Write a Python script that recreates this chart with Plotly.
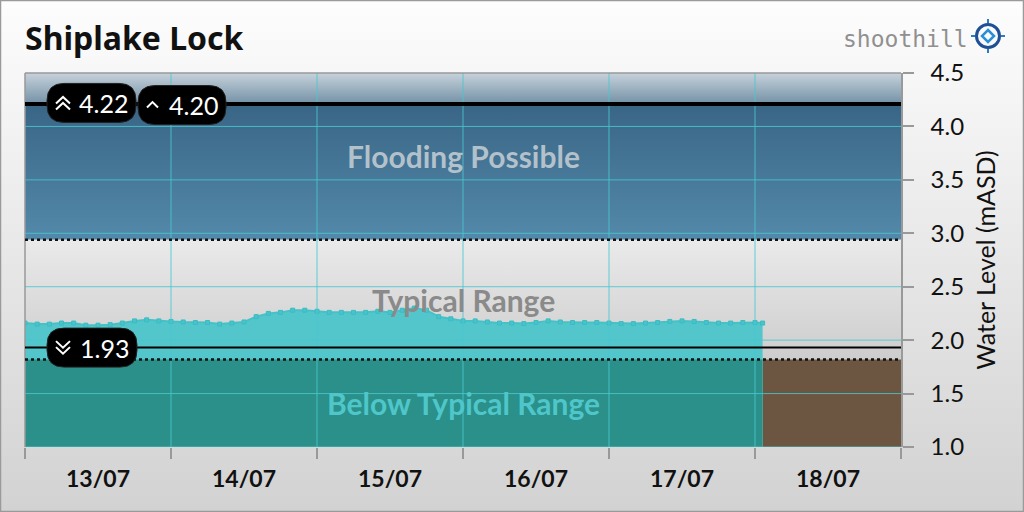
import plotly.graph_objects as go
import pandas as pd

# ---------------- data ----------------
start_time = "2023-07-13 00:00"
end_time = "2023-07-19 00:00"
last_reading_time = "2023-07-18 01:15"
levels = [2.16, 2.15, 2.15, 2.16, 2.16, 2.14, 2.14, 2.145, 2.16, 2.18,
          2.19, 2.18, 2.175, 2.17, 2.165, 2.165, 2.15, 2.16, 2.17, 2.22,
          2.25, 2.26, 2.28, 2.28, 2.27, 2.26, 2.26, 2.26, 2.26, 2.27,
          2.26, 2.28, 2.30, 2.28, 2.22, 2.20, 2.18, 2.18, 2.17, 2.16,
          2.16, 2.155, 2.165, 2.18, 2.17, 2.165, 2.165, 2.165, 2.16, 2.155,
          2.155, 2.16, 2.165, 2.175, 2.18, 2.175, 2.165, 2.16, 2.16, 2.165,
          2.165, 2.16]
times = list(pd.date_range(start_time, periods=len(levels) - 1, freq="2h")) + [pd.Timestamp(last_reading_time)]

axis_min, axis_max = 1.0, 4.5
typical_low, typical_high = 1.82, 2.94
thresholds = [4.22, 4.20, 1.93]
threshold_labels = ["4.22", "4.20", "1.93"]
y_ticks = [1.0, 1.5, 2.0, 2.5, 3.0, 3.5, 4.0, 4.5]
grid_days = ["2023-07-14", "2023-07-15", "2023-07-16", "2023-07-17", "2023-07-18"]
band_labels = ["Flooding Possible", "Typical Range", "Below Typical Range"]
title_text = "Shiplake Lock"
y_title = "Water Level (mASD)"

# ---------------- helpers ----------------
L, R, T, B, W, H = 25, 123, 73, 65, 1024, 512
PW, PH = W - L - R, H - T - B

def xp(px):
    return (px - L) / PW

def yp(py):
    return (H - B - py) / PH

FONT = "Lato"
fig = go.Figure()

# background bands (gradients)
fig.add_trace(go.Scatter(
    x=[start_time, end_time, end_time, start_time, start_time],
    y=[typical_high, typical_high, axis_max, axis_max, typical_high],
    fill="toself", mode="none", hoverinfo="skip",
    fillgradient=dict(type="vertical", start=typical_high, stop=axis_max,
                      colorscale=[[0, "#5389aa"], [0.803, "#3a6686"], [0.806, "#6f8ea4"], [1, "#c7d2db"]])))
fig.add_trace(go.Scatter(
    x=[start_time, end_time, end_time, start_time, start_time],
    y=[typical_low, typical_low, typical_high, typical_high, typical_low],
    fill="toself", mode="none", hoverinfo="skip",
    fillgradient=dict(type="vertical", start=typical_low, stop=typical_high,
                      colorscale=[[0, "#cdcdcd"], [1, "#eaeaea"]])))
# brown region after data
fig.add_trace(go.Scatter(
    x=[times[-1], end_time, end_time, times[-1], times[-1]],
    y=[axis_min, axis_min, typical_low, typical_low, axis_min],
    fill="toself", mode="none", fillcolor="#6c5641", hoverinfo="skip"))

# water level area
fig.add_trace(go.Scatter(
    x=times, y=[axis_min] * len(times), mode="lines", line=dict(width=0),
    hoverinfo="skip"))
fig.add_trace(go.Scatter(
    x=times, y=levels, mode="lines+markers", fill="tonexty",
    fillcolor="#53c6cb", line=dict(color="#45c2c8", width=2),
    marker=dict(symbol="square", size=4, color="#48c3c9",
                line=dict(color="#3bbcc3", width=1))))
# teal below-typical region under the data
fig.add_trace(go.Scatter(
    x=[times[0], times[-1], times[-1], times[0], times[0]],
    y=[axis_min, axis_min, typical_low, typical_low, axis_min],
    fill="toself", mode="none", fillcolor="#2a9089", hoverinfo="skip"))

shapes = []
# background of the whole image (vertical gradient strips)
n = 64
for i in range(n):
    p0, p1 = H * i / n, H * (i + 1) / n
    t = (i + 0.5) / n
    c = int(round(253 - (253 - 210) * t))
    shapes.append(dict(type="rect", xref="paper", yref="paper", layer="below",
                       x0=xp(0), x1=xp(W), y0=yp(p1), y1=yp(p0),
                       fillcolor=f"rgb({c},{c},{c})", line=dict(width=0)))
# grid lines on top of the fills
grid_col = "rgba(70,200,208,0.85)"
for yv in y_ticks[:-1]:
    shapes.append(dict(type="line", xref="x domain", yref="y", x0=0, x1=1, y0=yv, y1=yv,
                       line=dict(color=grid_col, width=1), layer="above"))
for d in grid_days:
    shapes.append(dict(type="line", xref="x", yref="y domain", x0=d, x1=d, y0=0, y1=1,
                       line=dict(color=grid_col, width=1), layer="above"))
# plot border
shapes.append(dict(type="line", xref="x domain", yref="y domain", x0=0, x1=1, y0=1, y1=1,
                   line=dict(color="#999999", width=1.5), layer="above"))
shapes.append(dict(type="line", xref="x domain", yref="y domain", x0=0, x1=0, y0=0, y1=1,
                   line=dict(color="#999999", width=1.5), layer="above"))
# typical range boundaries (dotted)
for yv in [typical_low, typical_high]:
    shapes.append(dict(type="line", xref="x domain", yref="y", x0=0, x1=1, y0=yv, y1=yv,
                       line=dict(color="#111111", width=2.5, dash="dot"), layer="above"))
# thresholds
for yv in thresholds:
    shapes.append(dict(type="line", xref="x domain", yref="y", x0=0, x1=1, y0=yv, y1=yv,
                       line=dict(color="#000000", width=2), layer="above"))

def pill(a, b, h, r):
    return (f"M{a+r},{-h} L{b-r},{-h} Q{b},{-h} {b},{-h+r} L{b},{h-r} Q{b},{h} {b-r},{h} "
            f"L{a+r},{h} Q{a},{h} {a},{h-r} L{a},{-h+r} Q{a},{-h} {a+r},{-h} Z")

badge_geom = [(22, 111), (113, 201), (22, 112)]
text_shift = [52, 142, 53]
for (a, b), lvl in zip(badge_geom, thresholds):
    shapes.append(dict(type="path", xref="x", yref="y", xsizemode="pixel", ysizemode="pixel",
                       xanchor=start_time, yanchor=lvl, path=pill(a, b, 19.5, 17),
                       fillcolor="#000000", line=dict(color="#222222", width=1), layer="above"))

def chev(x0, x1, ybase, up=True, hgt=6.5):
    xm = (x0 + x1) / 2
    tip = ybase + hgt if up else ybase - hgt
    return f"M{x0},{ybase} L{xm},{tip} L{x1},{ybase}"

chevrons = [
    (start_time, thresholds[0], chev(31, 45, -0.5, True)),
    (start_time, thresholds[0], chev(31, 45, -6.5, True)),
    (start_time, thresholds[1], chev(122, 133, -2.5, True, 5.5)),
    (start_time, thresholds[2], chev(31, 45, 6.5, False)),
    (start_time, thresholds[2], chev(31, 45, 0.5, False)),
]
for xa, ya, pth in chevrons:
    shapes.append(dict(type="path", xref="x", yref="y", xsizemode="pixel", ysizemode="pixel",
                       xanchor=xa, yanchor=ya, path=pth,
                       line=dict(color="#ffffff", width=2), layer="above"))

# outer image border
shapes.append(dict(type="rect", xref="paper", yref="paper", x0=xp(0.5), x1=xp(W - 0.5),
                   y0=yp(H - 0.5), y1=yp(0.5), line=dict(color="#9a9a9a", width=1.5),
                   fillcolor="rgba(0,0,0,0)", layer="above"))

# logo icon
cx, cy = 988, 36
def circ(r, color, w, fill="rgba(0,0,0,0)"):
    return dict(type="circle", xref="paper", yref="paper", x0=xp(cx - r), x1=xp(cx + r),
                y0=yp(cy + r), y1=yp(cy - r), line=dict(color=color, width=w), fillcolor=fill,
                layer="above")
shapes.append(circ(11.5, "#1f4f95", 3))
shapes.append(dict(type="path", xref="paper", yref="paper", layer="above",
                   path=(f"M{xp(cx)},{yp(cy-6)} L{xp(cx+6)},{yp(cy)} L{xp(cx)},{yp(cy+6)} "
                         f"L{xp(cx-6)},{yp(cy)} Z"),
                   line=dict(color="#2b8fd6", width=2.5), fillcolor="rgba(0,0,0,0)"))
for dx, dy in [(1, 0), (-1, 0), (0, 1), (0, -1)]:
    shapes.append(dict(type="line", xref="paper", yref="paper", layer="above",
                       x0=xp(cx + dx * 13), x1=xp(cx + dx * 17), y0=yp(cy + dy * 13), y1=yp(cy + dy * 17),
                       line=dict(color="#2a7cc4", width=2)))

annotations = []
annotations.append(dict(text=title_text, xref="paper", yref="paper", x=xp(23), y=yp(37),
                        xanchor="left", yanchor="middle", showarrow=False,
                        font=dict(family="Noto Sans", size=32, weight="bold", color="#111111")))
annotations.append(dict(text="shoothill", xref="paper", yref="paper", x=xp(841), y=yp(39),
                        xanchor="left", yanchor="middle", showarrow=False,
                        font=dict(family="DejaVu Sans Mono", size=23, weight=200, color="#909090")))
band_mid = [(typical_high + axis_max) / 2, (typical_low + typical_high) / 2, (axis_min + typical_low) / 2]
band_cols = ["rgba(200,208,214,0.85)", "#8a8a8a", "#4fc6ca"]
for txt, ym, col in zip(band_labels, band_mid, band_cols):
    annotations.append(dict(text=txt, xref="x domain", yref="y", x=0.5, y=ym, showarrow=False,
                            xanchor="center", yanchor="middle",
                            font=dict(family=FONT, size=30, weight="bold", color=col)))
for lbl, lvl, sh in zip(threshold_labels, thresholds, text_shift):
    annotations.append(dict(text=lbl, xref="x", yref="y", x=start_time, y=lvl, xshift=sh,
                            xanchor="left", yanchor="middle", showarrow=False,
                            font=dict(family=FONT, size=25, color="#ffffff")))

fig.update_layout(
    width=W, height=H, margin=dict(l=L, r=R, t=T, b=B),
    paper_bgcolor="#eeeeee", plot_bgcolor="rgba(0,0,0,0)", showlegend=False,
    shapes=shapes, annotations=annotations,
    xaxis=dict(type="date", range=[start_time, end_time], tick0=start_time, dtick=86400000,
               tickformat="%d/%m", ticklabelmode="period", ticks="outside", ticklen=11,
               tickcolor="#999999", tickwidth=1.5, showgrid=False, zeroline=False, showline=False,
               tickfont=dict(family=FONT, size=23, weight="bold", color="#111111"),
               fixedrange=True),
    yaxis=dict(side="right", range=[axis_min, axis_max], tickvals=y_ticks,
               ticktext=[f"{v:.1f}" for v in y_ticks], ticks="outside", ticklen=11,
               tickcolor="#999999", tickwidth=1.5, showline=True, linecolor="#999999", linewidth=1.5,
               showgrid=False, zeroline=False, ticklabelstandoff=12,
               tickfont=dict(family=FONT, size=24, color="#111111"),
               title=dict(text=y_title, font=dict(family=FONT, size=25, color="#111111"), standoff=14),
               fixedrange=True),
)

fig.write_html("out.html", config={"displayModeBar": False},
               post_script="document.body.style.margin='0';document.body.style.overflow='hidden';")
